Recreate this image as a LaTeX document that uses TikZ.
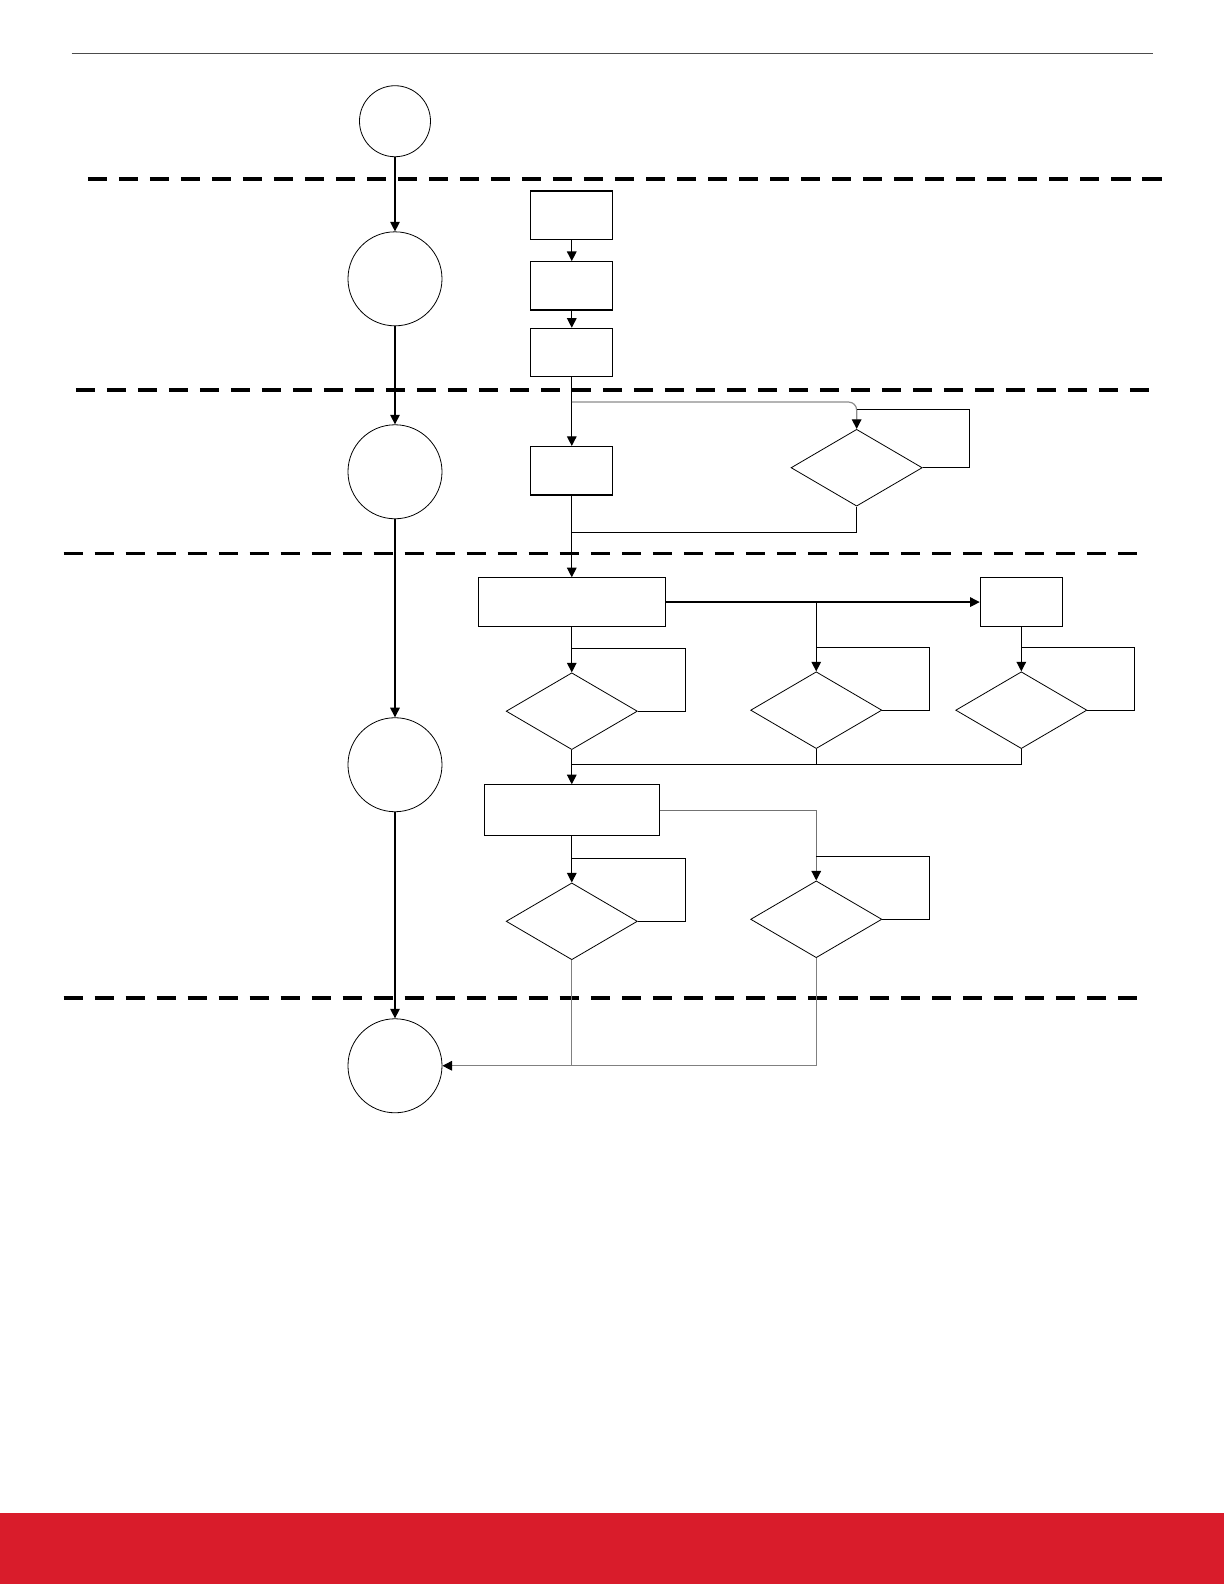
\documentclass[tikz,border=0pt]{standalone}
\usepackage{tikz}
\usepackage{xcolor}
\usetikzlibrary{shapes,arrows,arrows.meta,positioning,calc}
\definecolor{slred}{RGB}{217,28,43}

\begin{document}
\begin{tikzpicture}[
    x=0.505pt, y=-0.505pt,
    stage/.style={circle, draw, line width=0.4pt, minimum size=47pt, inner sep=0pt},
    box/.style={rectangle, draw, line width=0.6pt, minimum width=41pt, minimum height=24.2pt, inner sep=0pt},
    wide/.style={box, minimum width=93.4pt},
    check/.style={diamond, draw, line width=0.4pt, minimum width=65.6pt, minimum height=38.4pt, inner sep=0pt},
    link/.style={line width=0.6pt},
    arr/.style={link, -{Triangle[length=4.8pt,width=4.8pt,color=black]}},
    sepline/.style={line width=1.7pt, dash pattern=on 9.7pt off 5.8pt}
]
    \useasboundingbox (0,0) rectangle (1212,1568);

    % page frame
    \draw[black!70, line width=0.6pt] (71,53) -- (1141,53);
    \fill[slred] (0,1498) rectangle (1212,1568);

    % phase separators
    \draw[sepline] (87,177) -- (1158,177);
    \draw[sepline] (75,386) -- (1147,386);
    \draw[sepline] (63,548) -- (1135,548);
    \draw[sepline] (63,988) -- (1135,988);

    % stages on the left
    \node[stage, minimum size=35.5pt] (c1) at (391,120) {};
    \node[stage] (c2) at (391,276) {};
    \node[stage] (c3) at (391,467) {};
    \node[stage] (c4) at (391,757) {};
    \node[stage] (c5) at (391,1055) {};

    \draw[arr] (c1) -- (c2);
    \draw[arr] (c2) -- (c3);
    \draw[arr] (c3) -- (c4);
    \draw[arr] (c4) -- (c5);

    % setup chain
    \node[box] (b1) at (566,213) {};
    \node[box] (b2) at (566,283) {};
    \node[box] (b3) at (566,349) {};
    \node[box] (b4) at (566,466) {};
    \node[check] (d1) at (848,463) {};

    \draw[arr] (b1) -- (b2);
    \draw[arr] (b2) -- (b3);
    \draw[arr] (b3) -- (b4);

    \coordinate (split1) at (566,398);
    \coordinate (join1) at (566,527);
    \draw[arr, black!45, rounded corners=4pt] (split1) -| (d1.north);
    \draw[link] (d1.east) -- ++(46,0) |- ([yshift=9.6pt]d1.north);
    \draw[link] (d1.south) |- (join1);

    % main stage
    \node[wide] (wideA) at (566,596) {};
    \node[box] (boxB) at (1011,596) {};
    \node[check] (d2) at (566,704) {};
    \node[check] (d3) at (808,703) {};
    \node[check] (d4) at (1011,703) {};

    \draw[arr] (b4) -- (wideA);
    \draw[arr] (wideA) -- (boxB);
    \coordinate (split2) at (808,596);
    \draw[arr] (split2) -- (d3.north);
    \draw[arr] (wideA) -- (d2);
    \draw[arr] (boxB) -- (d4);

    \coordinate (merge) at (566,757);
    \draw[link] (d2.south) -- (merge);
    \draw[link] (d3.south) -- (d3.south |- merge);
    \draw[link] (d4.south) |- (merge);

    \node[box, minimum width=87.4pt, minimum height=25.3pt] (wideC) at (566,802) {};
    \node[check] (d5) at (566,912) {};
    \node[check] (d6) at (808,910) {};

    \draw[arr] (merge) -- (wideC);
    \draw[arr] (wideC) -- (d5);
    \draw[arr, black!55] (wideC.east) -| (d6.north);

    % retry loops
    \foreach \d in {d2,d3,d4,d5,d6}
        \draw[link] (\d.east) -- ++(47,0) |- ([yshift=12pt]\d.north);

    % exit
    \coordinate (join2) at (566,1055);
    \draw[link, black!50] (d5.south) -- (join2);
    \draw[link, black!50] (d6.south) |- (join2);
    \draw[arr, black!50] (join2) -- (c5.east);
\end{tikzpicture}
\end{document}
